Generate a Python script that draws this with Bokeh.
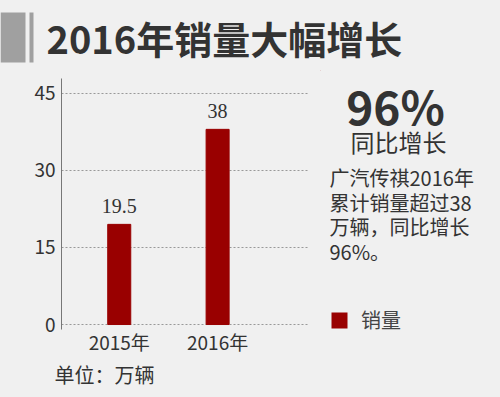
from bokeh.plotting import figure
from bokeh.layouts import column, row
from bokeh.models import (Range1d, FixedTicker, Label, LabelSet, BoxAnnotation,
                          Legend, LegendItem, ColumnDataSource)
from bokeh.embed import file_html
from bokeh.resources import INLINE

# ---- data ----
years = ["2015年", "2016年"]
sales = [19.5, 38]
value_labels = ["19.5", "38"]
y_ticks = [0, 15, 30, 45]
title_text = "2016年销量大幅增长"
big_stat = "96%"
big_stat_caption = "同比增长"
note_lines = ["广汽传祺2016年", "累计销量超过38", "万辆，同比增长", "96%。"]
unit_text = "单位：万辆"
series_name = "销量"

# ---- style ----
FONT = "Noto Sans CJK SC"
BG = "#f0f0f0"
BAR = "#990000"
TXT = "#333333"


def no_align(f):
    if hasattr(f, "frame_align"):
        f.frame_align = False


def blank(w, h, x0, x1, y0, y1):
    """A figure without axes whose frame fills the whole canvas."""
    f = figure(width=w, height=h, output_backend="svg", toolbar_location=None, title=None,
               x_axis_location=None, y_axis_location=None, min_border=0,
               x_range=Range1d(x0, x1), y_range=Range1d(y1, y0))
    f.background_fill_color = BG
    f.border_fill_color = BG
    f.outline_line_color = None
    f.xgrid.visible = False
    f.ygrid.visible = False
    no_align(f)
    return f


def lab(f, text, x, y, size, align="left", bold=False, color=TXT):
    f.add_layout(Label(x=x, y=y, text=text, text_align=align, text_baseline="middle",
                       text_font=FONT, text_font_size=size, text_color=color,
                       text_font_style="bold" if bold else "normal"))


# ---- title strip ----
top = blank(500, 70, 0, 500, 0, 70)
for (a, b) in [(0, 25), (29, 33)]:
    top.add_layout(BoxAnnotation(left=a, right=b, top=12, bottom=62,
                                 fill_color="#a0a0a0", fill_alpha=1, line_color=None))
lab(top, title_text, 46, 37, "38px", bold=True)

# ---- main chart ----
xs = list(range(1, len(years) + 1))
src = ColumnDataSource(dict(x=xs, top=sales, label=value_labels))

p = figure(width=320, height=290, output_backend="svg", toolbar_location=None, title=None,
           x_range=Range1d(0.413, 2.924), y_range=Range1d(-0.97, 47.9),
           min_border_left=61, min_border_right=12, min_border_top=8, min_border_bottom=31)
p.background_fill_color = BG
p.border_fill_color = BG
p.outline_line_color = None
no_align(p)

r = p.vbar(x="x", top="top", bottom=0, width=0.234, source=src,
           fill_color=BAR, line_color=BAR)

p.yaxis.ticker = FixedTicker(ticks=y_ticks)
p.yaxis.axis_line_color = "#777777"
p.yaxis.major_tick_line_color = None
p.yaxis.minor_tick_line_color = None
p.yaxis.major_tick_out = 0
p.yaxis.major_tick_in = 0
p.yaxis.major_label_standoff = 6
p.yaxis.major_label_text_font = FONT
p.yaxis.major_label_text_font_size = "19px"
p.yaxis.major_label_text_color = TXT

p.xaxis.ticker = FixedTicker(ticks=xs)
p.xaxis.major_label_overrides = {x: y for x, y in zip(xs, years)}
p.xaxis.axis_line_color = None
p.xaxis.major_tick_line_color = None
p.xaxis.minor_tick_line_color = None
p.xaxis.major_tick_out = 0
p.xaxis.major_tick_in = 0
p.xaxis.major_label_standoff = -2
p.xaxis.major_label_text_font = FONT
p.xaxis.major_label_text_font_size = "19px"
p.xaxis.major_label_text_color = TXT

p.xgrid.visible = False
p.ygrid.ticker = FixedTicker(ticks=y_ticks)
p.ygrid.grid_line_color = "#999999"
p.ygrid.grid_line_dash = "2 2"

p.add_layout(LabelSet(x="x", y="top", text="label", source=src, y_offset=18,
                      text_align="center", text_baseline="middle",
                      text_font=FONT, text_font_size="20px", text_color=TXT))

# ---- right-hand text panel ----
side = blank(180, 290, 320, 500, 70, 360)
lab(side, big_stat, 395, 104, "46px", align="center", bold=True)
lab(side, big_stat_caption, 398, 141, "24px", align="center")
for i, line in enumerate(note_lines):
    lab(side, line, 329, 177 + 24.5 * i, "20px")

# legend for the sales series (its bars fall outside this panel's ranges)
swatch = side.vbar(x="x", top="top", bottom=0, width=0.234, source=src,
                   fill_color=BAR, line_color=None)
legend = Legend(items=[LegendItem(label=series_name, renderers=[swatch])],
                location=(9, 26), padding=0, margin=0, spacing=0,
                glyph_width=20, glyph_height=20, label_height=20, label_standoff=12,
                border_line_color=None, background_fill_alpha=0,
                label_text_font=FONT, label_text_font_size="20px",
                label_text_color="#444444")
side.add_layout(legend)

# ---- bottom strip ----
bot = blank(500, 37, 0, 500, 360, 397)
lab(bot, unit_text, 54, 374, "20px")

mid = row(p, side, styles={"background-color": BG})
layout = column(top, mid, bot, styles={"background-color": BG})
open("out.html", "w").write(file_html(layout, INLINE))
